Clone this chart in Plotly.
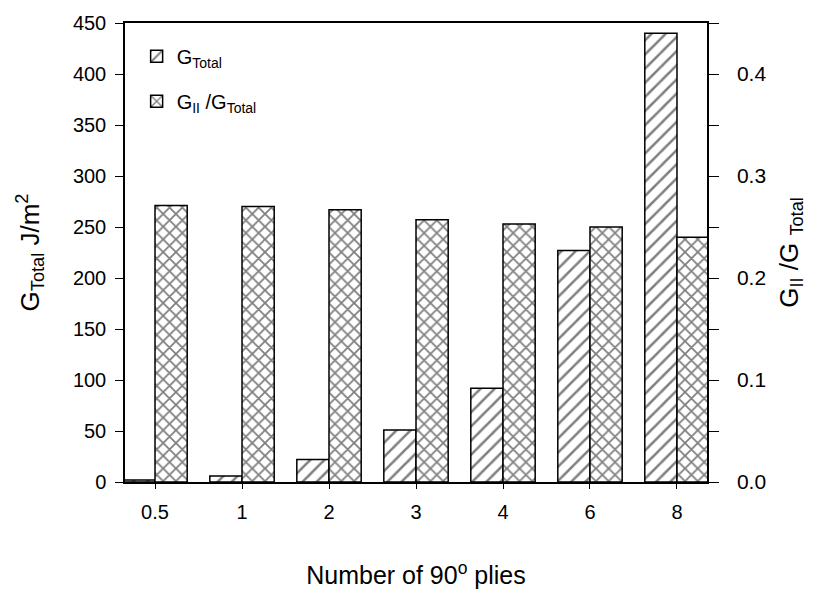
import plotly.graph_objects as go

categories = ["0.5", "1", "2", "3", "4", "6", "8"]
g_total = [2, 6, 22, 51, 92, 227, 440]
g_ratio = [0.271, 0.270, 0.267, 0.257, 0.253, 0.250, 0.240]

FONT = "Liberation Sans, Arial, sans-serif"
BW = 0.37

fig = go.Figure()
fig.add_trace(go.Bar(
    x=categories, y=g_total, name="G<sub>Total</sub>", legendgroup="a",
    width=BW, offset=-BW, yaxis="y",
    marker=dict(color="white", line=dict(color="black", width=1.5),
                pattern=dict(shape="/", fgcolor="black", bgcolor="white", size=10, solidity=0.25)),
))
fig.add_trace(go.Bar(
    x=categories, y=g_ratio, name="G<sub>II</sub> /G<sub>Total</sub>", legendgroup="b",
    width=BW, offset=0, yaxis="y2",
    marker=dict(color="white", line=dict(color="black", width=1.5),
                pattern=dict(shape="x", fgcolor="black", bgcolor="white", size=9, solidity=0.35)),
))

fig.update_layout(
    width=821, height=600,
    margin=dict(l=125, r=114, t=17, b=118),
    paper_bgcolor="white", plot_bgcolor="white",
    font=dict(family=FONT, size=20, color="black"),
    showlegend=True,
    legend=dict(x=0.02, y=0.97, xanchor="left", yanchor="top",
                bgcolor="rgba(0,0,0,0)", font=dict(size=20), tracegroupgap=16),
    xaxis=dict(
        type="category", range=[-0.345, 6.345],
        showline=True, linecolor="black", linewidth=1.5, mirror=True,
        ticks="outside", ticklen=5, tickcolor="black",
        showgrid=False, zeroline=False,
        tickfont=dict(size=20), ticklabelstandoff=6,
        title=dict(text="Number of 90<sup>o</sup> plies", font=dict(size=25), standoff=45),
    ),
    yaxis=dict(
        range=[0, 450], dtick=50,
        showline=True, linecolor="black", linewidth=1.5,
        ticks="outside", ticklen=8, tickcolor="black",
        showgrid=False, zeroline=False,
        tickfont=dict(size=20), ticklabelstandoff=5,
        title=dict(text="G<sub>Total</sub> J/m<sup>2</sup>", font=dict(size=26), standoff=26),
    ),
    yaxis2=dict(
        range=[0, 0.45], dtick=0.1, tickformat=".1f",
        overlaying="y", side="right",
        showline=True, linecolor="black", linewidth=1.5,
        ticks="outside", ticklen=10, tickcolor="black",
        minor=dict(dtick=0.05, ticks="outside", ticklen=10, tickcolor="black"),
        showgrid=False, zeroline=False,
        tickfont=dict(size=21), ticklabelstandoff=14,
        title=dict(text="G<sub>II</sub> /G <sub>Total</sub>", font=dict(size=26), standoff=14),
    ),
)

fig.write_html("out.html")
